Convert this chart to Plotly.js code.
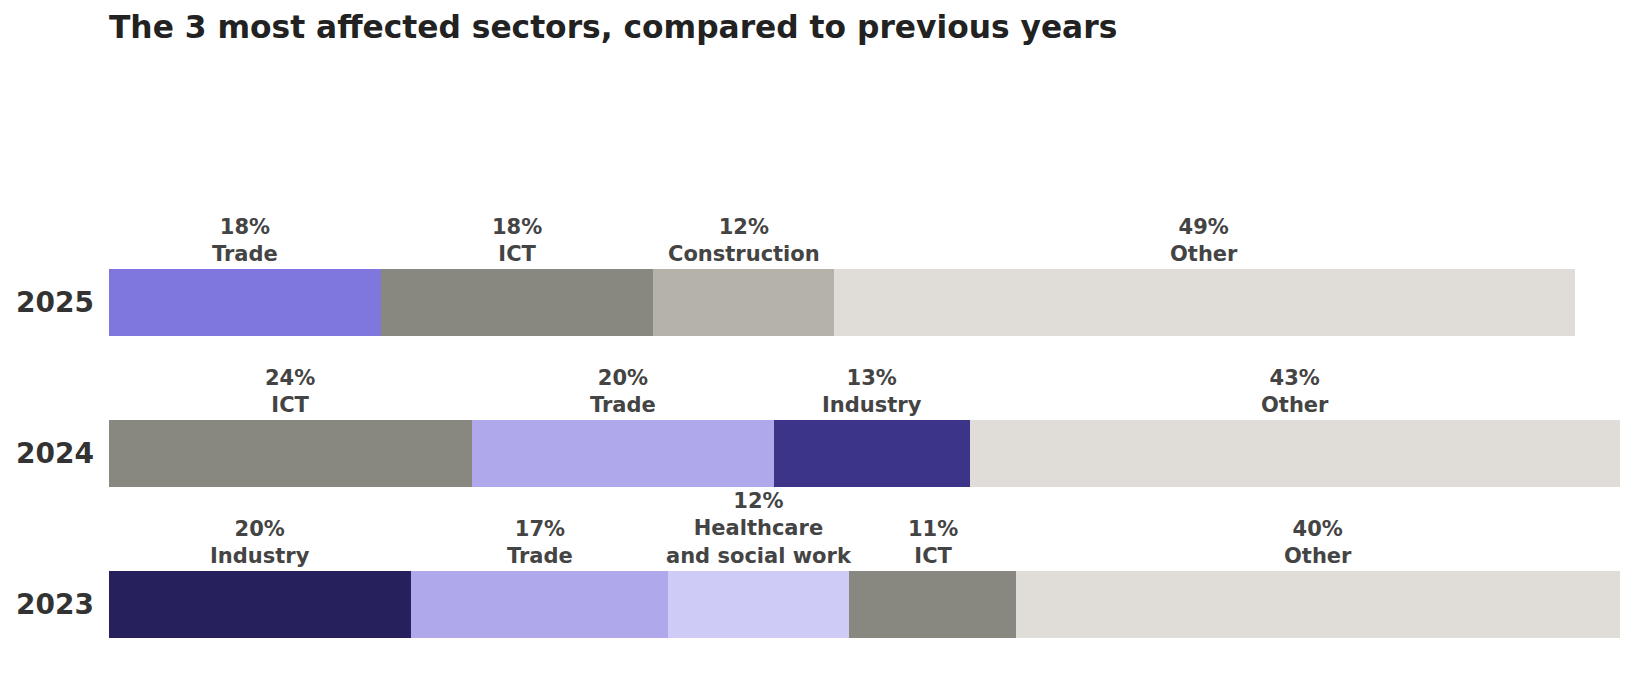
<!DOCTYPE html>
<html>
<head>
<meta charset="utf-8">
<script src="https://cdn.plot.ly/plotly-3.0.1.min.js"></script>
<style>html,body{margin:0;padding:0;background:#fff;}#chart{width:1634px;height:696px;}</style>
</head>
<body>
<div id="chart"></div>
<script>
const years = ['2025', '2024', '2023'];
const yearOrder = ['2023', '2024', '2025'];
const sectors2025 = ['Trade', 'ICT', 'Construction', 'Other'];
const values2025 = [18, 18, 12, 49];
const colors2025 = ['#7F77DD', '#888780', '#B4B2A9', '#E0DDD8'];
const sectors2024 = ['ICT', 'Trade', 'Industry', 'Other'];
const values2024 = [24, 20, 13, 43];
const colors2024 = ['#888780', '#AFA9EC', '#3C3489', '#E0DDD8'];
const sectors2023 = ['Industry', 'Trade', 'Healthcare<br>and social work', 'ICT', 'Other'];
const values2023 = [20, 17, 12, 11, 40];
const colors2023 = ['#26215C', '#AFA9EC', '#CECBF6', '#888780', '#E0DDD8'];

const rows = [
  {year: years[0], sectors: sectors2025, values: values2025, colors: colors2025},
  {year: years[1], sectors: sectors2024, values: values2024, colors: colors2024},
  {year: years[2], sectors: sectors2023, values: values2023, colors: colors2023}
];

const traces = [];
const annotations = [];
rows.forEach(r => {
  let cum = 0;
  const yi = yearOrder.indexOf(r.year);
  r.values.forEach((v, i) => {
    traces.push({
      type: 'bar', orientation: 'h',
      x: [v], y: [r.year],
      marker: {color: r.colors[i], line: {width: 0}},
      width: 0.45,
      hoverinfo: 'skip', showlegend: false
    });
    annotations.push({
      x: cum + v / 2, y: yi, xref: 'x', yref: 'y',
      text: '<b>' + v + '%<br>' + r.sectors[i] + '</b>',
      showarrow: false, xanchor: 'center', yanchor: 'bottom',
      yshift: 35,
      font: {family: 'DejaVu Sans', size: 21, color: '#444444'}
    });
    cum += v;
  });
});

const layout = {
  width: 1634, height: 696,
  paper_bgcolor: '#ffffff', plot_bgcolor: '#ffffff',
  margin: {l: 109, r: 14, t: 227, b: 16},
  barmode: 'stack', bargap: 0.55,
  title: {
    text: '<b>The 3 most affected sectors, compared to previous years</b>',
    x: 0, xref: 'paper', xanchor: 'left',
    y: 1, yref: 'container', yanchor: 'top', pad: {t: 16},
    font: {family: 'DejaVu Sans', size: 31.3, color: '#222222'}
  },
  xaxis: {range: [0, 100], visible: false, fixedrange: true},
  yaxis: {
    type: 'category', categoryorder: 'array', categoryarray: yearOrder,
    range: [-0.5, 2.5], showgrid: false, zeroline: false, showline: false, ticks: '',
    ticklabelstandoff: 14,
    tickfont: {family: 'DejaVu Sans', size: 28, color: '#333333', weight: 'bold'}
  },
  annotations: annotations,
  font: {family: 'DejaVu Sans'}
};

Plotly.newPlot('chart', traces, layout, {displayModeBar: false, staticPlot: true});
</script>
</body>
</html>
